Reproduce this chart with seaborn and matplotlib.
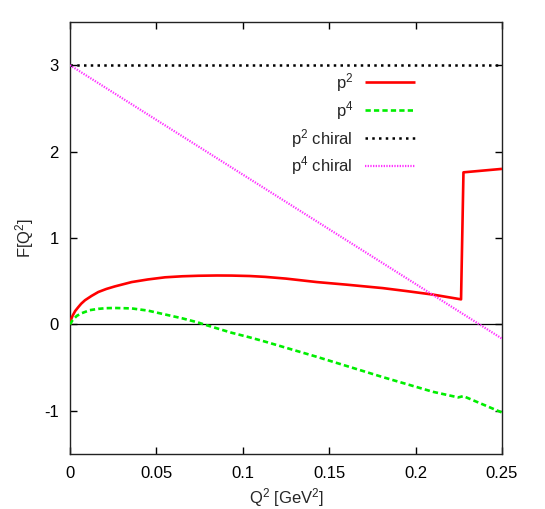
import matplotlib
matplotlib.use("Agg")
import matplotlib.pyplot as plt
import seaborn as sns
import pandas as pd

# ---- data ----
p2_x = [0.0, 0.0005, 0.0015, 0.003, 0.0048, 0.0065, 0.0087, 0.0125, 0.0164, 0.021,
        0.026, 0.0357, 0.045, 0.055, 0.065, 0.0743, 0.085, 0.0936, 0.104, 0.113,
        0.125, 0.1428, 0.16, 0.181, 0.195, 0.210, 0.2263, 0.2277, 0.25]
p2_y = [0.0, 0.05, 0.10, 0.155, 0.20, 0.24, 0.28, 0.33, 0.375, 0.41,
        0.44, 0.49, 0.52, 0.545, 0.557, 0.563, 0.566, 0.565, 0.56, 0.55,
        0.53, 0.49, 0.46, 0.42, 0.385, 0.345, 0.29, 1.76, 1.80]

p4_x = [0.0, 0.0015, 0.004, 0.0068, 0.0115, 0.0164, 0.021, 0.026, 0.0357, 0.045,
        0.055, 0.065, 0.074, 0.0775, 0.0936, 0.104, 0.113, 0.1428, 0.181, 0.210,
        0.2247, 0.2276, 0.25]
p4_y = [0.0, 0.05, 0.10, 0.13, 0.165, 0.18, 0.188, 0.19, 0.185, 0.16,
        0.115, 0.07, 0.023, 0.0, -0.097, -0.15, -0.20, -0.375, -0.61, -0.78,
        -0.845, -0.83, -1.02]

p2c_x = [0.0, 0.25]
p2c_y = [3.0, 3.0]

p4c_x = [0.0, 0.25]
p4c_y = [3.0, -0.165]

series_labels = [r"p$^2$", r"p$^4$", r"p$^2$ chiral", r"p$^4$ chiral"]
x_ticks = [0, 0.05, 0.1, 0.15, 0.2, 0.25]
x_tick_labels = ["0", "0.05", "0.1", "0.15", "0.2", "0.25"]
y_ticks = [-1, 0, 1, 2, 3]
y_tick_labels = ["-1", "0", "1", "2", "3"]

# ---- style ----
sns.set_style("ticks")
plt.rcParams["font.family"] = ["Liberation Sans", "DejaVu Sans"]
plt.rcParams["mathtext.fontset"] = "custom"
plt.rcParams["mathtext.rm"] = "Liberation Sans"
plt.rcParams["mathtext.it"] = "Liberation Sans"
FS = 12
plt.rcParams["font.size"] = FS

fig = plt.figure(figsize=(5.45, 5.09), dpi=100)
ax = fig.add_axes([70 / 545, 1 - 454 / 509, 432 / 545, 432 / 509])

ax.axhline(0, color="black", lw=0.9, zorder=1)

sns.lineplot(x=p2_x, y=p2_y, ax=ax, color="#ff0000", lw=1.9, sort=False,
             estimator=None, label=series_labels[0], zorder=3)
sns.lineplot(x=p4_x, y=p4_y, ax=ax, color="#00ee00", lw=1.9, sort=False,
             estimator=None, label=series_labels[1], zorder=3)
sns.lineplot(x=p2c_x, y=p2c_y, ax=ax, color="black", lw=1.8, sort=False,
             estimator=None, label=series_labels[2], zorder=3)
sns.lineplot(x=p4c_x, y=p4c_y, ax=ax, color="#ff33ff", lw=1.6, sort=False,
             estimator=None, label=series_labels[3], zorder=3)

lines = ax.get_lines()[1:]
lines[0].set_solid_capstyle("butt")
lines[1].set_dashes([2.0, 1.2])
lines[2].set_dashes([1.0, 1.7])
lines[3].set_dashes([0.6, 0.6])

ax.set_xlim(0, 0.25)
ax.set_ylim(-1.5, 3.5)
ax.set_xticks(x_ticks)
ax.set_xticklabels(x_tick_labels)
ax.set_yticks(y_ticks)
ax.set_yticklabels(y_tick_labels)

ax.tick_params(direction="in", length=5, width=1, top=True, right=True,
               labelsize=FS, colors="black")
ax.tick_params(axis="x", pad=9)
ax.tick_params(axis="y", pad=8)
for s in ax.spines.values():
    s.set_color("#222222")
    s.set_linewidth(1.0)

ax.set_xlabel(r"Q$^2$ [GeV$^2$]", fontsize=FS, labelpad=3)
ax.set_ylabel(r"F[Q$^2$]", fontsize=FS, labelpad=6)

leg = ax.legend(loc="upper right", bbox_to_anchor=(0.798, 0.887), markerfirst=False,
                frameon=False, fontsize=FS, handlelength=3.0, handletextpad=0.7,
                labelspacing=0.3, borderaxespad=0.0, borderpad=0.0)

fig.savefig("out.png", dpi=100)
